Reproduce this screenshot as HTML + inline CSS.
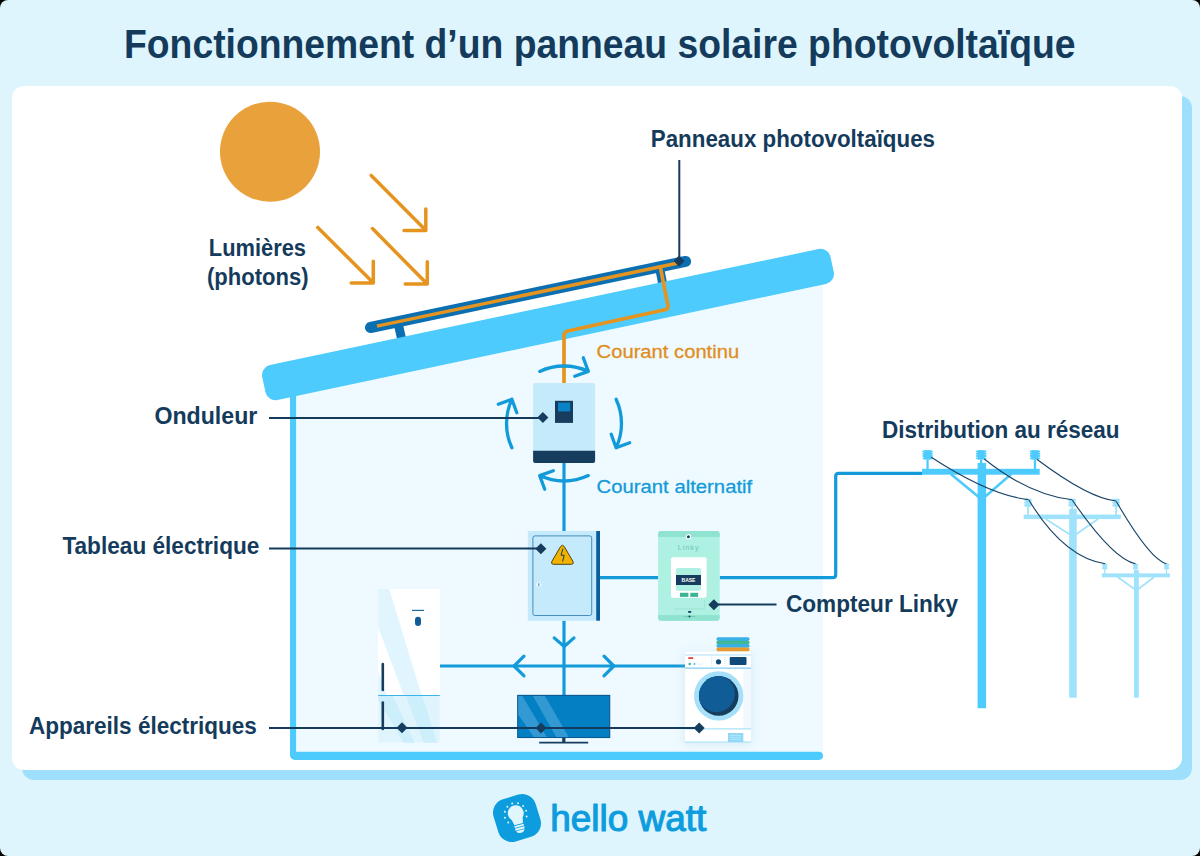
<!DOCTYPE html>
<html><head><meta charset="utf-8">
<style>
html,body{margin:0;padding:0;background:#000;}
body{width:1200px;height:856px;overflow:hidden;}
#page{position:absolute;left:0;top:0;width:1200px;height:856px;background:#dff5fd;border-radius:8px;overflow:hidden;}
svg{position:absolute;left:0;top:0;}
text{font-family:"Liberation Sans",sans-serif;}
</style></head><body>
<div id="page">
<svg width="1200" height="856" viewBox="0 0 1200 856">
<!-- card -->
<rect x="22" y="96" width="1170" height="684" rx="12" fill="#9ee0fb"/>
<rect x="12" y="86" width="1170" height="684" rx="12" fill="#ffffff"/>
<!-- title -->
<text x="124" y="58.2" font-size="41" font-weight="bold" fill="#143b5c" textLength="951.5" lengthAdjust="spacingAndGlyphs">Fonctionnement d’un panneau solaire photovoltaïque</text>

<!-- house interior -->
<path d="M294,396.1 L823,284.7 L823,752 L294,752 Z" fill="#eefaff"/>
<!-- walls -->
<path d="M290,385 L296.1,385 L296.1,751.7 L818.9,751.7 A4.1,4.1 0 0 1 818.9,759.9 L295,759.9 A5,5 0 0 1 290,754.9 Z" fill="#4ccbfc"/>
<!-- panel legs -->
<line x1="398.5" y1="325" x2="402.5" y2="343" stroke="#0b6fb1" stroke-width="9"/>
<line x1="659" y1="265" x2="663.5" y2="288" stroke="#0b6fb1" stroke-width="9"/>
<!-- roof -->
<g transform="translate(548 324.5) rotate(-11.94)"><rect x="-290.4" y="-17.85" width="580.8" height="35.7" rx="10" fill="#4ccbfc"/></g>
<!-- panel bar -->
<line x1="370.5" y1="327.5" x2="685.6" y2="261.4" stroke="#0b6fb1" stroke-width="11" stroke-linecap="round"/>
<line x1="377" y1="326.1" x2="677" y2="263.2" stroke="#e4941f" stroke-width="3.5"/>
<!-- orange wire -->
<path d="M660.5,268 L667.9,305.3 Q668.6,309 665,309.8 L567.7,331 Q564,331.8 564,335.5 L564,383" fill="none" stroke="#e4941f" stroke-width="3.7" stroke-linejoin="round"/>
<!-- sun -->
<circle cx="270" cy="151.7" r="50" fill="#e9a13c"/>
<!-- arrows -->
<g fill="none" stroke="#e4941f" stroke-width="3.5" stroke-linecap="round" stroke-linejoin="round">
<path d="M371.2,175.4 L425.5,230 M425.8,209 L425.8,230.5 L404,230.5"/>
<path d="M317.8,227.4 L373,282.6 M373.3,261.2 L373.3,283 L351.2,283"/>
<path d="M372.5,228.6 L427,283.8 M427.3,261.7 L427.3,284 L405.2,284"/>
</g>
<!-- labels -->
<g fill="#143b5c" font-weight="bold" font-size="23">
<text x="208.8" y="255.8" textLength="97.2" lengthAdjust="spacingAndGlyphs">Lumières</text>
<text x="207" y="284.8" textLength="101.5" lengthAdjust="spacingAndGlyphs">(photons)</text>
<text x="650.8" y="146.5" textLength="284.2" lengthAdjust="spacingAndGlyphs">Panneaux photovoltaïques</text>
<text x="154.4" y="423.7" textLength="102.9" lengthAdjust="spacingAndGlyphs">Onduleur</text>
<text x="62.4" y="554.2" textLength="197" lengthAdjust="spacingAndGlyphs">Tableau électrique</text>
<text x="29" y="734" textLength="227.8" lengthAdjust="spacingAndGlyphs">Appareils électriques</text>
<text x="786" y="611.5" textLength="172" lengthAdjust="spacingAndGlyphs">Compteur Linky</text>
<text x="882" y="438.1" textLength="237.6" lengthAdjust="spacingAndGlyphs">Distribution au réseau</text>
</g>
<text x="596.6" y="358.4" font-size="19" fill="#e08d1c" stroke="#e08d1c" stroke-width="0.3" textLength="142.6" lengthAdjust="spacingAndGlyphs">Courant continu</text>
<text x="596.6" y="493.4" font-size="19" fill="#139ad8" stroke="#139ad8" stroke-width="0.3" textLength="155.6" lengthAdjust="spacingAndGlyphs">Courant alternatif</text>

<!-- wires blue -->
<g fill="none" stroke="#139ad8" stroke-width="3.2" stroke-linecap="butt" stroke-linejoin="round">
<line x1="564" y1="463" x2="564" y2="531"/>
<line x1="564" y1="620.7" x2="564" y2="695"/>
<line x1="440" y1="666" x2="685" y2="666"/>
<line x1="600" y1="577.7" x2="658" y2="577.7"/>
<path d="M719.7,577.7 L832.7,577.7 Q835.7,577.7 835.7,574.7 L835.7,476.4 Q835.7,473.4 838.7,473.4 L922,473.4"/>
</g>
<g fill="none" stroke="#139ad8" stroke-width="3.2" stroke-linecap="round" stroke-linejoin="round">
<path d="M554.2,637.9 L564.2,646.5 L574,637.9"/>
<path d="M524,656.1 L514.1,666 L524,675.8"/>
<path d="M604,656.1 L613.8,666 L604,675.8"/>
</g>
<!-- inverter arrows -->
<g fill="none" stroke="#139ad8" stroke-width="3.3" stroke-linecap="round" stroke-linejoin="round">
<path id="arc1" d="M539.7,371.4 A57.5,57.5 0 0 1 588.3,371.4 M583.3,357.8 L588.3,371.4 L574.7,376.3"/>
<path d="M539.7,371.4 A57.5,57.5 0 0 1 588.3,371.4 M583.3,357.8 L588.3,371.4 L574.7,376.3" transform="rotate(90 564 423.5)"/>
<path d="M539.7,371.4 A57.5,57.5 0 0 1 588.3,371.4 M583.3,357.8 L588.3,371.4 L574.7,376.3" transform="rotate(180 564 423.5)"/>
<path d="M539.7,371.4 A57.5,57.5 0 0 1 588.3,371.4 M583.3,357.8 L588.3,371.4 L574.7,376.3" transform="rotate(270 564 423.5)"/>
</g>
<!-- inverter -->
<rect x="533.1" y="383.1" width="62" height="79.9" rx="2" fill="#c5eafb"/>
<path d="M533.1,450.7 L595.1,450.7 L595.1,461 Q595.1,463 593.1,463 L535.1,463 Q533.1,463 533.1,461 Z" fill="#173d5e"/>
<rect x="555" y="400.8" width="18" height="22.1" fill="#173d5e"/>
<rect x="558" y="402.6" width="12.2" height="8.8" fill="#0a82c6"/>

<!-- tableau -->
<rect x="527.8" y="531" width="68.4" height="89.7" fill="#c5eafb"/>
<rect x="596.2" y="531" width="3.8" height="89.7" fill="#0a5c9c"/>
<rect x="532.9" y="535.9" width="58.8" height="79.6" rx="2" fill="none" stroke="#3a82b6" stroke-width="0.9"/>
<path d="M560.6,546.5 Q562.4,544 564.2,546.5 L573,561.5 Q574,564.3 571.5,564.3 L553.3,564.3 Q550.8,564.3 551.8,561.5 Z" fill="#f2b200" stroke="#4f4418" stroke-width="1"/>
<path d="M563,548.6 L561,555.2 L564.2,555.2 L562.6,561.5" fill="none" stroke="#173d5e" stroke-width="1"/>
<circle cx="538.8" cy="584.7" r="2.4" fill="#ffffff" stroke="#d8f0fb" stroke-width="0.6"/>
<rect x="538.2" y="583.2" width="1.2" height="3" fill="#3b8dc6"/>

<!-- linky -->
<rect x="658.1" y="530.9" width="61.6" height="89.9" rx="3" fill="#aef0e2"/>
<path d="M658.1,537.1 L658.1,533.9 Q658.1,530.9 661.1,530.9 L716.7,530.9 Q719.7,530.9 719.7,533.9 L719.7,537.1 Z" fill="#8fe3cf"/>
<path d="M658.1,615 L719.7,615 L719.7,617.8 Q719.7,620.8 716.7,620.8 L661.1,620.8 Q658.1,620.8 658.1,617.8 Z" fill="#8fe3cf"/>
<circle cx="688.4" cy="536.7" r="2.6" fill="#ffffff"/>
<circle cx="688.4" cy="536.7" r="1.5" fill="#173d5e"/>
<text x="688.6" y="549.8" font-size="7.2" fill="#6fc6b4" text-anchor="middle" letter-spacing="1">Linky</text>
<rect x="671" y="557.3" width="35.6" height="40.5" rx="2" fill="#ffffff"/>
<rect x="676" y="568" width="25" height="22.8" rx="2" fill="#aef0e2"/>
<rect x="676" y="575" width="25" height="10" fill="#173d5e"/>
<text x="688.5" y="582.3" font-size="5" font-weight="bold" fill="#ffffff" text-anchor="middle">BASE</text>
<rect x="680" y="592.8" width="8.4" height="4.1" fill="#3eb496"/>
<rect x="690.3" y="592.8" width="7.8" height="4.1" fill="#3eb496"/>
<path d="M673.6,608.9 L704.5,608.9 L704.5,600" fill="none" stroke="#95dccb" stroke-width="0.6"/>
<rect x="688.2" y="611" width="3" height="1.8" fill="#173d5e"/>
<line x1="683.5" y1="616.5" x2="695.2" y2="616.5" stroke="#5cbaa8" stroke-width="0.6"/>
<circle cx="689.5" cy="616.5" r="1" fill="#173d5e"/>

<!-- fridge -->
<rect x="378.2" y="589" width="61.6" height="153.7" fill="#ffffff"/>
<path d="M378.2,589 L436.6,589 Q439.8,589 439.8,592.2 L439.8,695.5 L378.2,695.5 Z" fill="#ffffff"/>
<path d="M378.2,589 L389.2,589 L421.7,695.5 L403.8,695.5 L378.2,627 Z" fill="#e0f5fe"/><path d="M378.2,672 L387,695.5 L378.2,695.5 Z" fill="#e0f5fe"/>
<path d="M378.2,695.5 L439.8,695.5 L439.8,742.7 L378.2,742.7 Z" fill="#dff4fd"/>
<path d="M378.2,696 L393,696 L414.5,742.7 L404,742.7 L378.2,700 Z" fill="#cdeefb"/><path d="M406,696 L422.4,696 L437.1,742.7 L423.7,742.7 Z" fill="#cdeefb"/>
<path d="M420,695.5 L433,695.5 L439,713 L439,742.7 L420,742.7 L410,710 Z" fill="#cdeefb" opacity="0"/>
<line x1="378.2" y1="695.5" x2="439.8" y2="695.5" stroke="#3cb4ea" stroke-width="1"/>
<line x1="412" y1="610.4" x2="424" y2="610.4" stroke="#1f6aa0" stroke-width="1.2"/>
<rect x="415" y="616.8" width="6" height="9.2" rx="3" fill="#0e5c98"/>
<line x1="382.8" y1="664" x2="382.8" y2="690" stroke="#173d5e" stroke-width="2.6" stroke-linecap="round"/>
<line x1="382.8" y1="702.5" x2="382.8" y2="729" stroke="#173d5e" stroke-width="2.6" stroke-linecap="round"/>

<!-- TV -->
<rect x="517.7" y="695.4" width="92" height="42.1" fill="#0380c4" stroke="#0a5890" stroke-width="1.1"/>
<path d="M518.2,696 L522.4,696 L546.7,737 L533.9,737 L518.2,714.6 Z" fill="#3399d3"/>
<path d="M532.9,696 L544.9,696 L568.7,737 L556.3,737 Z" fill="#3399d3"/>
<line x1="563.8" y1="738" x2="563.8" y2="742.4" stroke="#173d5e" stroke-width="3.2"/>
<line x1="539.2" y1="742.6" x2="588.2" y2="742.6" stroke="#173d5e" stroke-width="1.6"/>

<!-- washing machine -->
<filter id="wsh" x="-30%" y="-30%" width="160%" height="160%"><feGaussianBlur stdDeviation="4"/></filter><rect x="683" y="652" width="70" height="93" fill="#9fc3dc" opacity="0.22" filter="url(#wsh)"/><rect x="685.1" y="651.7" width="65.9" height="91.2" fill="#ffffff"/>
<rect x="743.4" y="668" width="7.6" height="60.8" fill="#f1f9fe"/>
<line x1="685.1" y1="655" x2="751" y2="655" stroke="#a8e2fa" stroke-width="1.2"/>
<line x1="685.1" y1="668.1" x2="751" y2="668.1" stroke="#5cc3f0" stroke-width="1"/>
<rect x="688.3" y="657.2" width="4.9" height="1.8" fill="#e0413a"/>
<circle cx="689.7" cy="664" r="1.3" fill="#3fbf8f"/>
<circle cx="694.5" cy="664" r="0.9" fill="#3ab0e6"/>
<circle cx="698" cy="664" r="0.6" fill="#8fd8f7"/>
<circle cx="701" cy="664" r="0.6" fill="#8fd8f7"/>
<circle cx="718.5" cy="661.8" r="2.6" fill="#0e4a7a"/>
<line x1="711.7" y1="657" x2="711.7" y2="666" stroke="#b7e6fa" stroke-width="1" stroke-dasharray="1 1"/>
<line x1="724.8" y1="657" x2="724.8" y2="666" stroke="#b7e6fa" stroke-width="1" stroke-dasharray="1 1"/>
<rect x="729.7" y="657" width="16.8" height="8" rx="1" fill="#0e4a7a"/>
<circle cx="718.7" cy="695.9" r="24.7" fill="#a5e0fa"/>
<circle cx="718.7" cy="695.9" r="19.8" fill="#173d5e"/>
<clipPath id="drc"><circle cx="718.7" cy="695.9" r="19.8"/></clipPath><circle cx="716.3" cy="693.6" r="18.6" fill="#0f5c96" clip-path="url(#drc)"/>
<line x1="685.1" y1="728.8" x2="751" y2="728.8" stroke="#a8e2fa" stroke-width="1.2"/>
<line x1="685.1" y1="742.2" x2="751" y2="742.2" stroke="#a8e2fa" stroke-width="1.2"/>
<rect x="728" y="733" width="15.3" height="9" fill="#8fd8f7"/>
<g stroke="#c5ecfc" stroke-width="0.6"><line x1="730" y1="735.5" x2="741" y2="735.5"/><line x1="730" y1="737.5" x2="741" y2="737.5"/><line x1="730" y1="739.5" x2="741" y2="739.5"/></g>
<rect x="716.4" y="637.3" width="33.2" height="3.6" rx="1.8" fill="#3ab0e6"/>
<rect x="716.4" y="640.7" width="33.2" height="3.6" rx="1.8" fill="#3fb893"/>
<rect x="716.4" y="644.1" width="33.2" height="3.6" rx="1.8" fill="#3ab0e6"/>
<rect x="716.4" y="647.6" width="33.2" height="3.7" rx="1.8" fill="#e89b2f"/>

<!-- poles -->
<g fill="#9fe2fb">
<rect x="1134" y="570" width="4.8" height="127.7"/>
<rect x="1101.9" y="573.4" width="68" height="3.9"/>
<rect x="1069.2" y="508.7" width="7.5" height="189"/>
<rect x="1023.7" y="514.6" width="97.1" height="4.5"/>
</g>
<g stroke="#9fe2fb" stroke-width="1.6" fill="none">
<path d="M1117.6,577 L1136.4,590.4 L1154.2,577"/>
<path d="M1045.6,519 L1073,536.5 L1098,519"/>
</g>
<g fill="#4ccbfc">
<rect x="977.6" y="462.9" width="8.5" height="245.3"/>
<rect x="922" y="468.8" width="117.7" height="5.9"/>
</g>
<g stroke="#4ccbfc" stroke-width="2.5" fill="none">
<path d="M950.8,474 L981.8,499.5 L1011.3,474"/>
</g>
<!-- insulators -->
<rect x="922.4" y="450.5" width="10.5" height="1.9" rx="1.1" fill="#4ccbfc"/><rect x="922.4" y="452.8" width="10.5" height="1.9" rx="1.1" fill="#4ccbfc"/><rect x="922.4" y="455.1" width="10.5" height="1.9" rx="1.1" fill="#4ccbfc"/><rect x="922.4" y="457.4" width="10.5" height="1.9" rx="1.1" fill="#4ccbfc"/><rect x="924.2" y="450.3" width="6.7" height="9.2" fill="#4ccbfc"/><rect x="926.4" y="459.5" width="2.3" height="9.5" fill="#4ccbfc"/><rect x="976.0" y="450.5" width="10.5" height="1.9" rx="1.1" fill="#4ccbfc"/><rect x="976.0" y="452.8" width="10.5" height="1.9" rx="1.1" fill="#4ccbfc"/><rect x="976.0" y="455.1" width="10.5" height="1.9" rx="1.1" fill="#4ccbfc"/><rect x="976.0" y="457.4" width="10.5" height="1.9" rx="1.1" fill="#4ccbfc"/><rect x="977.8" y="450.3" width="6.7" height="9.2" fill="#4ccbfc"/><rect x="980.0" y="459.5" width="2.3" height="9.5" fill="#4ccbfc"/><rect x="1029.8" y="450.5" width="10.5" height="1.9" rx="1.1" fill="#4ccbfc"/><rect x="1029.8" y="452.8" width="10.5" height="1.9" rx="1.1" fill="#4ccbfc"/><rect x="1029.8" y="455.1" width="10.5" height="1.9" rx="1.1" fill="#4ccbfc"/><rect x="1029.8" y="457.4" width="10.5" height="1.9" rx="1.1" fill="#4ccbfc"/><rect x="1031.6" y="450.3" width="6.7" height="9.2" fill="#4ccbfc"/><rect x="1033.8" y="459.5" width="2.3" height="9.5" fill="#4ccbfc"/><rect x="1024.0" y="498.9" width="7.9" height="2.2" rx="1.2" fill="#9fe2fb"/><rect x="1024.0" y="501.5" width="7.9" height="2.2" rx="1.2" fill="#9fe2fb"/><rect x="1024.0" y="504.2" width="7.9" height="2.2" rx="1.2" fill="#9fe2fb"/><rect x="1025.5" y="498.7" width="5.1" height="7.9" fill="#9fe2fb"/><rect x="1027.1" y="506.6" width="1.7" height="8.4" fill="#9fe2fb"/><rect x="1068.2" y="498.9" width="7.9" height="2.2" rx="1.2" fill="#9fe2fb"/><rect x="1068.2" y="501.5" width="7.9" height="2.2" rx="1.2" fill="#9fe2fb"/><rect x="1068.2" y="504.2" width="7.9" height="2.2" rx="1.2" fill="#9fe2fb"/><rect x="1069.7" y="498.7" width="5.1" height="7.9" fill="#9fe2fb"/><rect x="1071.3" y="506.6" width="1.7" height="8.4" fill="#9fe2fb"/><rect x="1112.2" y="498.9" width="7.9" height="2.2" rx="1.2" fill="#9fe2fb"/><rect x="1112.2" y="501.5" width="7.9" height="2.2" rx="1.2" fill="#9fe2fb"/><rect x="1112.2" y="504.2" width="7.9" height="2.2" rx="1.2" fill="#9fe2fb"/><rect x="1113.7" y="498.7" width="5.1" height="7.9" fill="#9fe2fb"/><rect x="1115.3" y="506.6" width="1.7" height="8.4" fill="#9fe2fb"/><rect x="1102.0" y="563.8" width="5.5" height="2.5" rx="1.2" fill="#9fe2fb"/><rect x="1102.0" y="566.7" width="5.5" height="2.5" rx="1.2" fill="#9fe2fb"/><rect x="1103.0" y="563.6" width="3.5" height="5.7" fill="#9fe2fb"/><rect x="1104.2" y="569.3" width="1.2" height="4.7" fill="#9fe2fb"/><rect x="1132.8" y="563.8" width="5.5" height="2.5" rx="1.2" fill="#9fe2fb"/><rect x="1132.8" y="566.7" width="5.5" height="2.5" rx="1.2" fill="#9fe2fb"/><rect x="1133.7" y="563.6" width="3.5" height="5.7" fill="#9fe2fb"/><rect x="1134.9" y="569.3" width="1.2" height="4.7" fill="#9fe2fb"/><rect x="1163.8" y="563.8" width="5.5" height="2.5" rx="1.2" fill="#9fe2fb"/><rect x="1163.8" y="566.7" width="5.5" height="2.5" rx="1.2" fill="#9fe2fb"/><rect x="1164.7" y="563.6" width="3.5" height="5.7" fill="#9fe2fb"/><rect x="1165.9" y="569.3" width="1.2" height="4.7" fill="#9fe2fb"/>
<g fill="none" stroke="#1a4568" stroke-width="1.15">
<path d="M931.3,457.3 Q990,495.6 1028.5,499.6"/>
<path d="M984.3,459 Q1029.7,495.3 1072.2,499.8"/>
<path d="M1036.8,459.3 Q1089.2,498.6 1116.2,501"/>
<path d="M1028.9,500 Q1063.4,557.3 1105.2,563.8"/>
<path d="M1072.2,500 Q1113,559.2 1135.5,563.8"/>
<path d="M1116.2,501.3 Q1149.9,559.6 1166.5,563.8"/>
</g>

<!-- leader lines -->
<g stroke="#143b5c" stroke-width="2" fill="none">
<line x1="679.3" y1="160" x2="679.3" y2="261"/>
<line x1="269" y1="418" x2="543" y2="418"/>
<line x1="269" y1="548.5" x2="541" y2="548.5"/>
<line x1="269" y1="728" x2="699" y2="728"/>
<line x1="714" y1="604.6" x2="776.5" y2="604.6"/>
</g>
<g fill="#173d5e">
<path d="M679.1,255.5 L684.6,261 L679.1,266.5 L673.6,261 Z"/>
<path d="M542.9,412.1 L548.4,417.6 L542.9,423.1 L537.4,417.6 Z"/>
<path d="M540.9,543.3 L546.4,548.8 L540.9,554.3 L535.4,548.8 Z"/>
<path d="M402,722.3 L407.5,727.8 L402,733.3 L396.5,727.8 Z"/>
<path d="M541,722.5 L546.5,728 L541,733.5 L535.5,728 Z"/>
<path d="M699.2,722.5 L704.7,728 L699.2,733.5 L693.7,728 Z"/>
<path d="M713.9,599.3 L719.4,604.8 L713.9,610.3 L708.4,604.8 Z"/>
</g>

<!-- logo -->
<g transform="translate(517 818) rotate(-17)">
<rect x="-22" y="-22" width="44" height="44" rx="14" fill="#0d9ddf"/>
</g>
<g fill="#e0f6fd">
<g transform="translate(515.8 813.2) rotate(-15)">
<path d="M-5.6,5.7 A8,8 0 1 1 5.6,5.7 L4.4,11.2 L-4.4,11.2 Z"/>
<rect x="-4.8" y="12.2" width="9.6" height="1.9"/>
<rect x="-4.8" y="14.9" width="9.6" height="1.9"/>
<path d="M-4.2,17.5 L4.2,17.5 Q3.4,20.3 0,20.3 Q-3.4,20.3 -4.2,17.5 Z"/>
</g>
<circle cx="512.2" cy="803.5" r="1"/><circle cx="518" cy="803.2" r="1"/><circle cx="523.1" cy="805.9" r="1"/>
<circle cx="526.1" cy="810.8" r="1"/><circle cx="526.6" cy="816.4" r="1"/><circle cx="507.4" cy="806.7" r="1"/>
<circle cx="504.9" cy="811.8" r="1"/><circle cx="504.9" cy="817.7" r="1"/><circle cx="508.2" cy="822.6" r="1"/>
</g>
<text x="550.3" y="830.8" font-size="36" fill="#0d9ddf" stroke="#0d9ddf" stroke-width="1.1" stroke-linejoin="round" textLength="156" lengthAdjust="spacingAndGlyphs">hello watt</text>
</svg>
</div>
</body></html>
